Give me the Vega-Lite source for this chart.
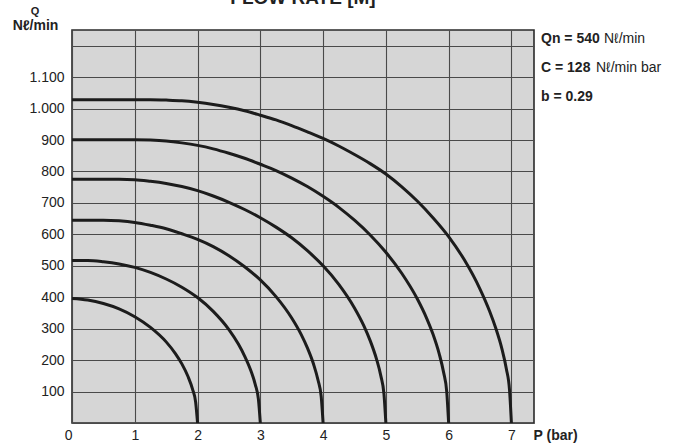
{
  "$schema": "https://vega.github.io/schema/vega-lite/v6.json",
  "autosize": {"type": "none"},
  "width": 462,
  "height": 393,
  "padding": {"left": 72, "top": 30, "right": 143, "bottom": 21},
  "background": "#ffffff",
  "title": {"text": "FLOW RATE [M]", "fontSize": 19, "fontWeight": "bold", "font": "Liberation Sans", "color": "#222222", "anchor": "middle", "frame": "group", "offset": -2},
  "config": {
    "view": {"fill": "#d6d6d6", "stroke": "#2a2a2a", "strokeWidth": 1.6},
    "font": "Liberation Sans",
    "axis": {"domain": false, "ticks": false, "grid": true, "gridColor": "#4a4a4a", "gridWidth": 1.1, "gridOpacity": 1, "labelFont": "Liberation Sans", "labelFontSize": 14, "labelColor": "#222222", "titleFont": "Liberation Sans", "titleColor": "#222222", "labelFlush": false, "labelOverlap": false}
  },
  "data": {"values": [
    {"inlet": 2, "p": 0, "q": 396}, {"inlet": 2, "p": 0.25, "q": 391}, {"inlet": 2, "p": 0.5, "q": 380}, {"inlet": 2, "p": 0.75, "q": 363}, {"inlet": 2, "p": 1.0, "q": 338}, {"inlet": 2, "p": 1.25, "q": 304}, {"inlet": 2, "p": 1.5, "q": 258}, {"inlet": 2, "p": 1.65, "q": 220}, {"inlet": 2, "p": 1.75, "q": 188}, {"inlet": 2, "p": 1.85, "q": 147}, {"inlet": 2, "p": 1.92, "q": 108}, {"inlet": 2, "p": 1.97, "q": 66}, {"inlet": 2, "p": 2.0, "q": 0},
    {"inlet": 3, "p": 0, "q": 517}, {"inlet": 3, "p": 0.25, "q": 517}, {"inlet": 3, "p": 0.5, "q": 513}, {"inlet": 3, "p": 0.75, "q": 506}, {"inlet": 3, "p": 1.0, "q": 495}, {"inlet": 3, "p": 1.25, "q": 479}, {"inlet": 3, "p": 1.5, "q": 458}, {"inlet": 3, "p": 1.75, "q": 432}, {"inlet": 3, "p": 2.0, "q": 399}, {"inlet": 3, "p": 2.25, "q": 355}, {"inlet": 3, "p": 2.5, "q": 297}, {"inlet": 3, "p": 2.65, "q": 251}, {"inlet": 3, "p": 2.75, "q": 213}, {"inlet": 3, "p": 2.85, "q": 166}, {"inlet": 3, "p": 2.92, "q": 122}, {"inlet": 3, "p": 2.97, "q": 75}, {"inlet": 3, "p": 3.0, "q": 0},
    {"inlet": 4, "p": 0, "q": 645}, {"inlet": 4, "p": 0.25, "q": 645}, {"inlet": 4, "p": 0.5, "q": 645}, {"inlet": 4, "p": 0.75, "q": 643}, {"inlet": 4, "p": 1.0, "q": 638}, {"inlet": 4, "p": 1.25, "q": 629}, {"inlet": 4, "p": 1.5, "q": 618}, {"inlet": 4, "p": 1.75, "q": 602}, {"inlet": 4, "p": 2.0, "q": 584}, {"inlet": 4, "p": 2.25, "q": 561}, {"inlet": 4, "p": 2.5, "q": 532}, {"inlet": 4, "p": 2.75, "q": 497}, {"inlet": 4, "p": 3.0, "q": 455}, {"inlet": 4, "p": 3.25, "q": 402}, {"inlet": 4, "p": 3.5, "q": 334}, {"inlet": 4, "p": 3.65, "q": 282}, {"inlet": 4, "p": 3.75, "q": 239}, {"inlet": 4, "p": 3.85, "q": 186}, {"inlet": 4, "p": 3.92, "q": 136}, {"inlet": 4, "p": 3.97, "q": 84}, {"inlet": 4, "p": 4.0, "q": 0},
    {"inlet": 5, "p": 0, "q": 775}, {"inlet": 5, "p": 0.25, "q": 775}, {"inlet": 5, "p": 0.5, "q": 775}, {"inlet": 5, "p": 0.75, "q": 775}, {"inlet": 5, "p": 1.0, "q": 774}, {"inlet": 5, "p": 1.25, "q": 769}, {"inlet": 5, "p": 1.5, "q": 762}, {"inlet": 5, "p": 1.75, "q": 752}, {"inlet": 5, "p": 2.0, "q": 739}, {"inlet": 5, "p": 2.25, "q": 722}, {"inlet": 5, "p": 2.5, "q": 702}, {"inlet": 5, "p": 2.75, "q": 679}, {"inlet": 5, "p": 3.0, "q": 653}, {"inlet": 5, "p": 3.25, "q": 623}, {"inlet": 5, "p": 3.5, "q": 589}, {"inlet": 5, "p": 3.75, "q": 548}, {"inlet": 5, "p": 4.0, "q": 500}, {"inlet": 5, "p": 4.25, "q": 441}, {"inlet": 5, "p": 4.5, "q": 366}, {"inlet": 5, "p": 4.65, "q": 309}, {"inlet": 5, "p": 4.75, "q": 262}, {"inlet": 5, "p": 4.85, "q": 204}, {"inlet": 5, "p": 4.92, "q": 150}, {"inlet": 5, "p": 4.97, "q": 92}, {"inlet": 5, "p": 5.0, "q": 0},
    {"inlet": 6, "p": 0, "q": 901}, {"inlet": 6, "p": 0.5, "q": 901}, {"inlet": 6, "p": 1.0, "q": 901}, {"inlet": 6, "p": 1.25, "q": 900}, {"inlet": 6, "p": 1.5, "q": 897}, {"inlet": 6, "p": 1.75, "q": 891}, {"inlet": 6, "p": 2.0, "q": 883}, {"inlet": 6, "p": 2.25, "q": 872}, {"inlet": 6, "p": 2.5, "q": 858}, {"inlet": 6, "p": 2.75, "q": 842}, {"inlet": 6, "p": 3.0, "q": 823}, {"inlet": 6, "p": 3.25, "q": 803}, {"inlet": 6, "p": 3.5, "q": 779}, {"inlet": 6, "p": 3.75, "q": 752}, {"inlet": 6, "p": 4.0, "q": 721}, {"inlet": 6, "p": 4.25, "q": 686}, {"inlet": 6, "p": 4.5, "q": 645}, {"inlet": 6, "p": 4.75, "q": 598}, {"inlet": 6, "p": 5.0, "q": 543}, {"inlet": 6, "p": 5.25, "q": 477}, {"inlet": 6, "p": 5.5, "q": 395}, {"inlet": 6, "p": 5.65, "q": 333}, {"inlet": 6, "p": 5.75, "q": 283}, {"inlet": 6, "p": 5.85, "q": 220}, {"inlet": 6, "p": 5.92, "q": 161}, {"inlet": 6, "p": 5.97, "q": 99}, {"inlet": 6, "p": 6.0, "q": 0},
    {"inlet": 7, "p": 0, "q": 1028}, {"inlet": 7, "p": 0.5, "q": 1028}, {"inlet": 7, "p": 1.0, "q": 1028}, {"inlet": 7, "p": 1.25, "q": 1028}, {"inlet": 7, "p": 1.5, "q": 1027}, {"inlet": 7, "p": 1.75, "q": 1025}, {"inlet": 7, "p": 2.0, "q": 1020}, {"inlet": 7, "p": 2.25, "q": 1013}, {"inlet": 7, "p": 2.5, "q": 1004}, {"inlet": 7, "p": 2.75, "q": 993}, {"inlet": 7, "p": 3.0, "q": 979}, {"inlet": 7, "p": 3.25, "q": 964}, {"inlet": 7, "p": 3.5, "q": 946}, {"inlet": 7, "p": 3.75, "q": 926}, {"inlet": 7, "p": 4.0, "q": 905}, {"inlet": 7, "p": 4.25, "q": 881}, {"inlet": 7, "p": 4.5, "q": 854}, {"inlet": 7, "p": 4.75, "q": 825}, {"inlet": 7, "p": 5.0, "q": 792}, {"inlet": 7, "p": 5.25, "q": 752}, {"inlet": 7, "p": 5.5, "q": 706}, {"inlet": 7, "p": 5.75, "q": 653}, {"inlet": 7, "p": 6.0, "q": 593}, {"inlet": 7, "p": 6.25, "q": 519}, {"inlet": 7, "p": 6.5, "q": 426}, {"inlet": 7, "p": 6.65, "q": 357}, {"inlet": 7, "p": 6.75, "q": 302}, {"inlet": 7, "p": 6.85, "q": 235}, {"inlet": 7, "p": 6.92, "q": 172}, {"inlet": 7, "p": 6.97, "q": 105}, {"inlet": 7, "p": 7.0, "q": 0}
  ]},
  "layer": [
    {
      "mark": {"type": "line", "color": "#1c1c1c", "strokeWidth": 3, "interpolate": "monotone"},
      "encoding": {
        "x": {"field": "p", "type": "quantitative", "scale": {"domain": [0, 7.36], "nice": false},
          "axis": {"values": [0, 1, 2, 3, 4, 5, 6, 7], "tickCount": 20, "format": "d", "labelPadding": 5, "labelOverlap": false,
            "labelAlign": {"condition": {"test": "datum.value == 0", "value": "right"}, "value": "center"},
            "title": "P  (bar)", "titleFontSize": 14, "titleFontWeight": "bold", "titleAlign": "left", "titleAnchor": "start", "titleX": 461, "titleY": 16, "titleBaseline": "alphabetic"}},
        "y": {"field": "q", "type": "quantitative", "scale": {"domain": [0, 1250], "nice": false},
          "axis": {"values": [0, 100, 200, 300, 400, 500, 600, 700, 800, 900, 1000, 1100, 1200], "tickCount": 20, "labelPadding": 8, "labelOverlap": false,
            "labelExpr": "datum.value == 0 || datum.value >= 1200 ? '' : replace(format(datum.value, ','), ',', '.')",
            "title": "Nℓ/min", "titleFontSize": 14, "titleFontWeight": "bold", "titleAngle": 0, "titleAlign": "center", "titleX": -37, "titleY": -1, "titleBaseline": "alphabetic"}},
        "detail": {"field": "inlet", "type": "nominal"}
      }
    },
    {
      "data": {"values": [{"t": "Q"}]},
      "mark": {"type": "text", "fontSize": 11, "fontWeight": "bold", "color": "#222222", "align": "center", "baseline": "alphabetic", "dx": -37},
      "encoding": {"text": {"field": "t"}, "x": {"datum": 0}, "y": {"datum": 1298}}
    },
    {
      "data": {"values": [{"t": "Qn = 540"}]},
      "mark": {"type": "text", "fontSize": 14, "fontWeight": "bold", "color": "#222222", "align": "left", "baseline": "alphabetic", "dx": 7},
      "encoding": {"text": {"field": "t"}, "x": {"datum": 7.36}, "y": {"datum": 1210}}
    },
    {
      "data": {"values": [{"t": "Nℓ/min"}]},
      "mark": {"type": "text", "fontSize": 14, "color": "#222222", "align": "left", "baseline": "alphabetic", "dx": 70},
      "encoding": {"text": {"field": "t"}, "x": {"datum": 7.36}, "y": {"datum": 1210}}
    },
    {
      "data": {"values": [{"t": "C = 128"}]},
      "mark": {"type": "text", "fontSize": 14, "fontWeight": "bold", "color": "#222222", "align": "left", "baseline": "alphabetic", "dx": 7},
      "encoding": {"text": {"field": "t"}, "x": {"datum": 7.36}, "y": {"datum": 1117}}
    },
    {
      "data": {"values": [{"t": "Nℓ/min bar"}]},
      "mark": {"type": "text", "fontSize": 14, "color": "#222222", "align": "left", "baseline": "alphabetic", "dx": 62},
      "encoding": {"text": {"field": "t"}, "x": {"datum": 7.36}, "y": {"datum": 1117}}
    },
    {
      "data": {"values": [{"t": "b = 0.29"}]},
      "mark": {"type": "text", "fontSize": 14, "fontWeight": "bold", "color": "#222222", "align": "left", "baseline": "alphabetic", "dx": 7},
      "encoding": {"text": {"field": "t"}, "x": {"datum": 7.36}, "y": {"datum": 1025}}
    }
  ]
}
